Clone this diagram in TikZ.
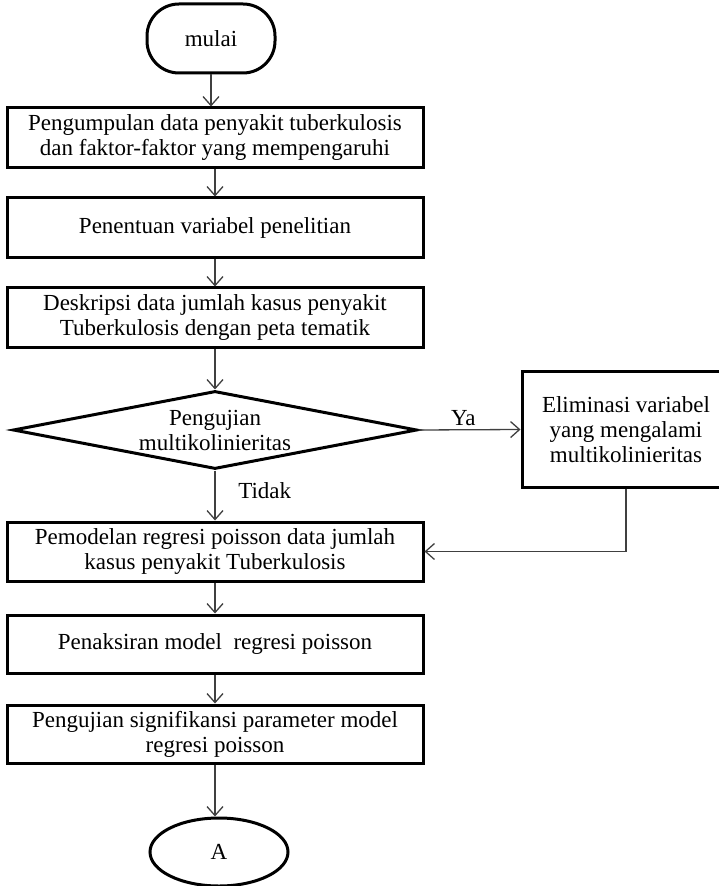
\documentclass[tikz,border=0pt]{standalone}
\usepackage{fontspec}
\setmainfont{Liberation Serif}
\usetikzlibrary{arrows.meta,shapes.geometric}
\tikzset{
  txt/.style={font=\fontsize{11.5}{12.5}\selectfont},
  proc/.style={draw,line width=1.5pt,minimum width=208pt,minimum height=30pt,align=center,inner sep=0pt},
  flow/.style={draw=black!75,line width=0.65pt,-{Straight Barb[length=4.5pt,width=8pt]}}
}
\begin{document}
\begin{tikzpicture}[x=0.5pt,y=-0.5pt,every node/.style={txt}]
  \useasboundingbox (0,0) rectangle (718,886);
  % start
  \node[draw,line width=1.5pt,rounded corners=16pt,minimum width=64pt,minimum height=34.5pt] (mulai) at (211,38.5) {mulai};
  % steps before the test
  \node[proc] (kumpul) at (215,138) {Pengumpulan data penyakit tuberkulosis\\dan faktor-faktor yang mempengaruhi};
  \node[proc] (variabel) at (215,228) {Penentuan variabel penelitian};
  \node[proc] (deskripsi) at (215,318) {Deskripsi data jumlah kasus penyakit\\Tuberkulosis dengan peta tematik};
  % test and elimination branch
  \node[diamond,draw,line width=1.5pt,aspect=5,minimum width=202pt,minimum height=39pt,inner sep=0pt,align=center] (uji) at (215,430) {Pengujian\\multikolinieritas};
  \node[proc,minimum width=104pt,minimum height=57.5pt] (elim) at (626,429.5) {Eliminasi variabel\\yang mengalami\\multikolinieritas};
  % steps after the test
  \node[proc,minimum height=29.5pt] (model) at (215,551.5) {Pemodelan regresi poisson data jumlah\\kasus penyakit Tuberkulosis};
  \node[proc,minimum height=29pt] (taksir) at (215,644) {Penaksiran model~ regresi poisson};
  \node[proc,minimum height=29pt] (signif) at (215,734) {Pengujian signifikansi parameter model\\regresi poisson};
  \node[ellipse,draw,line width=1.5pt,minimum width=69pt,minimum height=34pt] (A) at (219,852) {A};
  % connectors
  \draw[flow] (mulai.south) -- (mulai.south |- kumpul.north);
  \draw[flow] (kumpul.south) -- (variabel.north);
  \draw[flow] (variabel.south) -- (deskripsi.north);
  \draw[flow] (deskripsi.south) -- (uji.north);
  \draw[flow] (uji.east) -- node[above,inner sep=1.5pt,pos=0.44] {Ya} (elim.west);
  \draw[flow] (uji.south) -- node[right=8pt,pos=0.4] {Tidak} (model.north);
  \draw[flow] (elim.south) |- (model.east);
  \draw[flow] (model.south) -- (taksir.north);
  \draw[flow] (taksir.south) -- (signif.north);
  \draw[flow] (signif.south) -- (signif.south |- A.north);
\end{tikzpicture}
\end{document}
